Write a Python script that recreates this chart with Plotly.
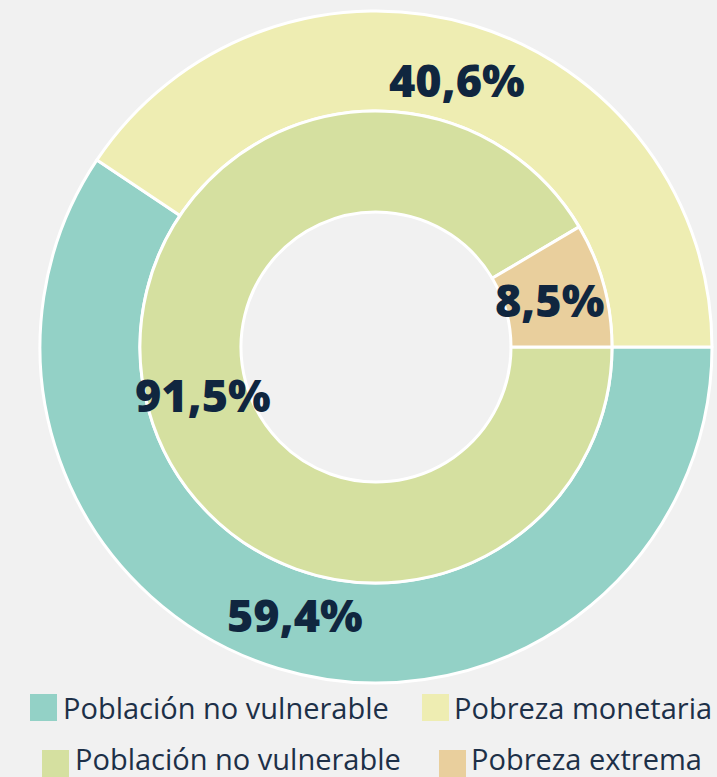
import math
import plotly.graph_objects as go

# ---------------- data ----------------
outer_labels = ["Población no vulnerable", "Pobreza monetaria"]
outer_values = [59.4, 40.6]
outer_text = ["59,4%", "40,6%"]

inner_labels = ["Población no vulnerable", "Pobreza extrema"]
inner_values = [91.5, 8.5]
inner_text = ["91,5%", "8,5%"]

outer_colors = ["#93d1c6", "#eeedb2"]
inner_colors = ["#d5e0a0", "#e9cf9d"]

# ---------------- layout constants (pixels) ----------------
W, H = 717, 777
CX, CY = 376, 347
R_OUT, R_MID, R_IN = 336, 236, 135


def px_x(x):
    return x / W


def px_y(y):
    return 1 - y / H


label_font = dict(family="'Open Sans', Lato, sans-serif", size=45, color="#10263f", weight=800)
legend_font = dict(family="'Open Sans', 'Noto Sans', sans-serif", size=29, color="#1d3048")

fig = go.Figure()
fig.add_trace(go.Pie(
    labels=outer_labels, values=outer_values,
    textinfo="none", hoverinfo="label+percent",
    hole=R_MID / R_OUT, sort=False, direction="clockwise", rotation=90,
    marker=dict(colors=outer_colors, line=dict(color="white", width=3)),
    showlegend=False,
    domain=dict(x=[px_x(CX - R_OUT), px_x(CX + R_OUT)], y=[px_y(CY + R_OUT), px_y(CY - R_OUT)]),
))
fig.add_trace(go.Pie(
    labels=inner_labels, values=inner_values,
    textinfo="none", hoverinfo="label+percent",
    hole=R_IN / R_MID, sort=False, direction="clockwise", rotation=90,
    marker=dict(colors=inner_colors, line=dict(color="white", width=3)),
    showlegend=False,
    domain=dict(x=[px_x(CX - R_MID), px_x(CX + R_MID)], y=[px_y(CY + R_MID), px_y(CY - R_MID)]),
))

annotations = []


def add_slice_labels(values, texts, r_label):
    total = sum(values)
    cum = 0
    for v, t in zip(values, texts):
        mid = (cum + v / 2) / total
        ang = 2 * math.pi * mid  # clockwise from 3 o'clock (screen coordinates)
        x = CX + r_label * math.cos(ang)
        y = CY + r_label * math.sin(ang)
        annotations.append(dict(text=t, xref="paper", yref="paper",
                                x=px_x(x), y=px_y(y), xanchor="center", yanchor="middle",
                                showarrow=False, font=label_font))
        cum += v


add_slice_labels(outer_values, outer_text, (R_OUT + R_MID) / 2 - 6)
add_slice_labels(inner_values, inner_text, (R_MID + R_IN) / 2 - 6)

# ---------------- custom legend ----------------
legend_rows = [
    (outer_labels, outer_colors, [(30, 61), (422, 452)], 707.5),
    (inner_labels, inner_colors, [(42, 73), (439, 469)], 763.5),
]
shapes = []
for labels, colors, pos, yc in legend_rows:
    for lab, col, (sx, tx) in zip(labels, colors, pos):
        shapes.append(dict(type="rect", xref="paper", yref="paper",
                           x0=px_x(sx), x1=px_x(sx + 27),
                           y0=px_y(yc + 13.5), y1=px_y(yc - 13.5),
                           fillcolor=col, line=dict(width=0)))
        annotations.append(dict(text=lab, xref="paper", yref="paper",
                                x=px_x(tx), y=px_y(min(yc, 758)), xanchor="left", yanchor="middle",
                                showarrow=False, font=legend_font))

fig.update_layout(
    width=W, height=H,
    margin=dict(l=0, r=0, t=0, b=0),
    paper_bgcolor="#f1f1f1", plot_bgcolor="#f1f1f1",
    shapes=shapes, annotations=annotations,
)

fig.write_html(
    "out.html",
    config={"displayModeBar": False},
    post_script="document.body.style.margin='0';document.body.style.background='#f1f1f1';",
)
